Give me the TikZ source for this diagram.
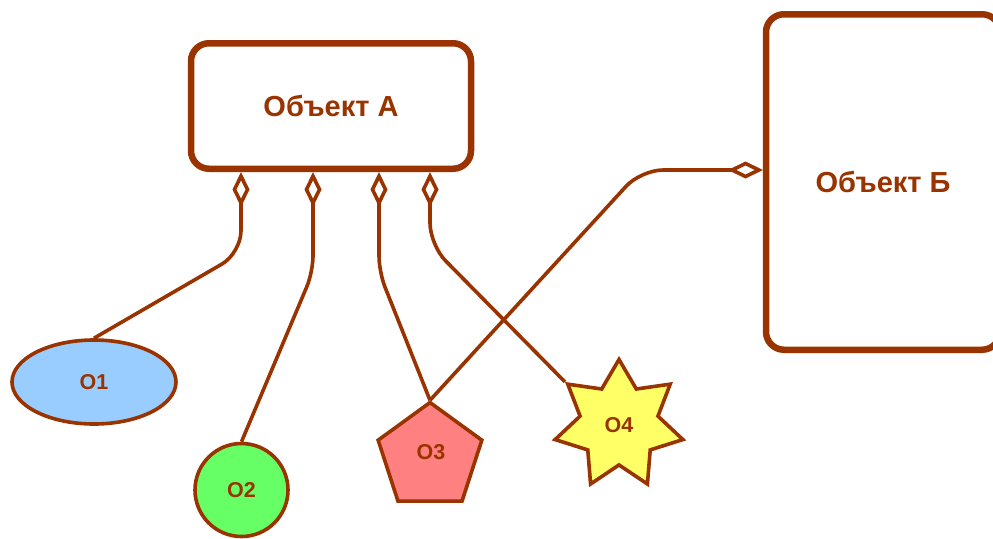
\documentclass[tikz,border=0pt]{standalone}
\usepackage{fontspec}
\setmainfont{Liberation Sans}
\usepackage{tikz}
\usetikzlibrary{shapes,arrows.meta}
\definecolor{brn}{HTML}{993300}
\tikzstyle{obj} = [draw=brn, line width=6.5pt, rounded corners=18pt, text=brn, font=\fontsize{29}{34}\selectfont\bfseries, inner sep=0pt]
\tikzstyle{part} = [draw=brn, line width=3.6pt, text=brn, font=\fontsize{21.5}{26}\selectfont\bfseries, inner sep=0pt]
\tikzstyle{link} = [draw=brn, line width=3.6pt, rounded corners=22pt, shorten <=3pt, {Diamond[open,length=35pt,width=17pt]}-]

\begin{document}
\begin{tikzpicture}[x=1pt,y=-1pt]
\useasboundingbox (0,0) rectangle (993,538);

\node[obj, minimum width=280pt, minimum height=125.5pt] (objA) at (331,106) {Объект А};
\node[obj, minimum width=234pt, minimum height=335.5pt] (objB) at (883,182) {Объект Б};

\node[part, ellipse, fill={rgb,255:red,153;green,204;blue,255}, minimum width=164pt, minimum height=84pt] (o1) at (94,382) {O1};
\node[part, circle, fill={rgb,255:red,102;green,255;blue,102}, minimum size=93pt] (o2) at (241.5,490) {O2};
\node[part, regular polygon, regular polygon sides=5, fill={rgb,255:red,255;green,128;blue,128}, minimum size=109pt] (o3) at (430,457) {};
\node[text=brn, font=\fontsize{21.5}{26}\selectfont\bfseries] (t3) at (431,452) {O3};
\node[part, star, star points=7, star point ratio=1.64, fill={rgb,255:red,255;green,255;blue,102}, minimum size=131pt] (o4) at (619,425) {O4};

% anchors on the boxes and bends
\coordinate (a1) at (241,169);
\coordinate (a2) at (313,169);
\coordinate (a3) at (379,169);
\coordinate (a4) at (430,169);
\coordinate (b1) at (766,170);
\coordinate (k1) at (241,253);
\coordinate (k2) at (313,272);
\coordinate (k3) at (379,272);
\coordinate (k4) at (430,245);
\coordinate (kb) at (641,170);

\draw[link] (a1) -- (k1) -- (o1.north);
\draw[link, rounded corners=16pt] (a2) -- (k2) -- (o2.north);
\draw[link, rounded corners=16pt] (a3) -- (k3) -- (o3.corner 1);
\draw[link] (a4) -- (k4) -- (o4.outer point 2);
\draw[link] (b1) -- (kb) -- (o3.corner 1);
\end{tikzpicture}
\end{document}
